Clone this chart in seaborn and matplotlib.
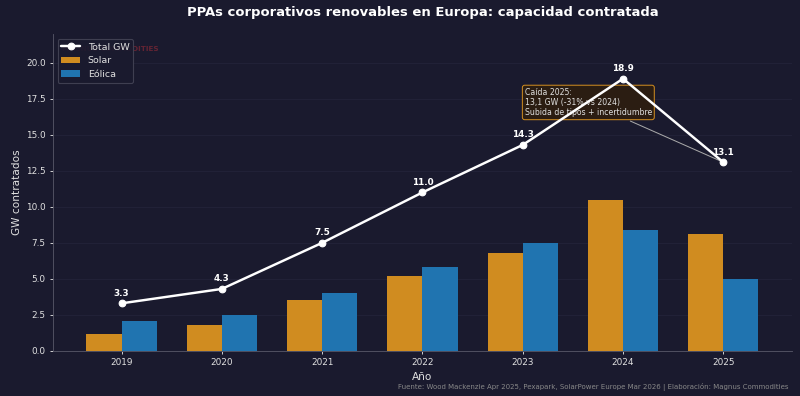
import pandas as pd
import seaborn as sns
import matplotlib
matplotlib.use('Agg')
import matplotlib.pyplot as plt

# data
years = ['2019', '2020', '2021', '2022', '2023', '2024', '2025']
solar = [1.2, 1.8, 3.5, 5.2, 6.8, 10.5, 8.1]
eolica = [2.1, 2.5, 4.0, 5.8, 7.5, 8.4, 5.0]
total = [3.3, 4.3, 7.5, 11.0, 14.3, 18.9, 13.1]

bg = '#1a1a2e'
txt = '#e0e0e0'

df = pd.DataFrame({
    'Año': years * 2,
    'GW': solar + eolica,
    'Tecnología': ['Solar'] * len(years) + ['Eólica'] * len(years),
})

sns.set_style('dark')
plt.rcParams['font.family'] = ['DejaVu Sans']

fig, ax = plt.subplots(figsize=(10, 4.95), dpi=80)
fig.patch.set_facecolor(bg)
ax.set_facecolor(bg)

sns.barplot(data=df, x='Año', y='GW', hue='Tecnología', width=0.7,
            palette={'Solar': '#d08c20', 'Eólica': '#2074b0'},
            saturation=1, linewidth=0, edgecolor='none', ax=ax, zorder=2)

xs = list(range(len(years)))
ax.plot(xs, total, color='white', lw=2.2, marker='o', markersize=6,
        label='Total GW', zorder=4)
for x, v in zip(xs, total):
    ax.annotate(f'{v:.1f}', (x, v), xytext=(0, 5), textcoords='offset points',
                ha='center', va='bottom', color='white', fontsize=8,
                fontweight='bold', zorder=5)

ax.annotate('Caída 2025:\n13,1 GW (-31% vs 2024)\nSubida de tipos + incertidumbre',
            xy=(6, 13.1), xytext=(4.02, 17.25), ha='left', va='center',
            fontsize=7, color=txt,
            bbox=dict(boxstyle='round,pad=0.3', fc='#2b1d12', ec='#d08c20', lw=0.9),
            arrowprops=dict(arrowstyle='-', color='#aaaaaa', lw=0.9), zorder=3)

ax.set_ylim(0, 22)
ax.set_title('PPAs corporativos renovables en Europa: capacidad contratada',
             color='white', fontsize=11.8, fontweight='bold', pad=16)
ax.set_xlabel('Año', color=txt, fontsize=9.5)
ax.set_ylabel('GW contratados', color=txt, fontsize=9.5)
ax.tick_params(colors=txt, labelsize=8, length=3, left=True, bottom=True)
ax.grid(axis='y', color='#25253c', lw=0.6)
ax.set_axisbelow(True)
for s in ['top', 'right']:
    ax.spines[s].set_visible(False)
for s in ['left', 'bottom']:
    ax.spines[s].set_color('#555566')

# faint watermark behind the legend
ax.text(0.012, 0.962, 'MAGNUS COMMODITIES', transform=ax.transAxes,
        color='#c0303a', alpha=0.45, fontsize=6.5, fontweight='bold',
        ha='left', va='top', zorder=1)

h, l = ax.get_legend_handles_labels()
order = [l.index('Total GW'), l.index('Solar'), l.index('Eólica')]
leg = ax.legend([h[i] for i in order], [l[i] for i in order], loc='upper left',
                fontsize=8.5, facecolor=bg, edgecolor='#444455', labelcolor=txt,
                framealpha=0.9, borderpad=0.4, handlelength=2.0)
leg.set_zorder(6)

fig.text(0.985, 0.012, 'Fuente: Wood Mackenzie Apr 2025, Pexapark, SolarPower Europe Mar 2026 | Elaboración: Magnus Commodities',
         ha='right', va='bottom', color='#888888', fontsize=6.3)

plt.subplots_adjust(left=0.066, right=0.99, top=0.914, bottom=0.114)
plt.savefig('out.png', dpi=80, facecolor=bg)
